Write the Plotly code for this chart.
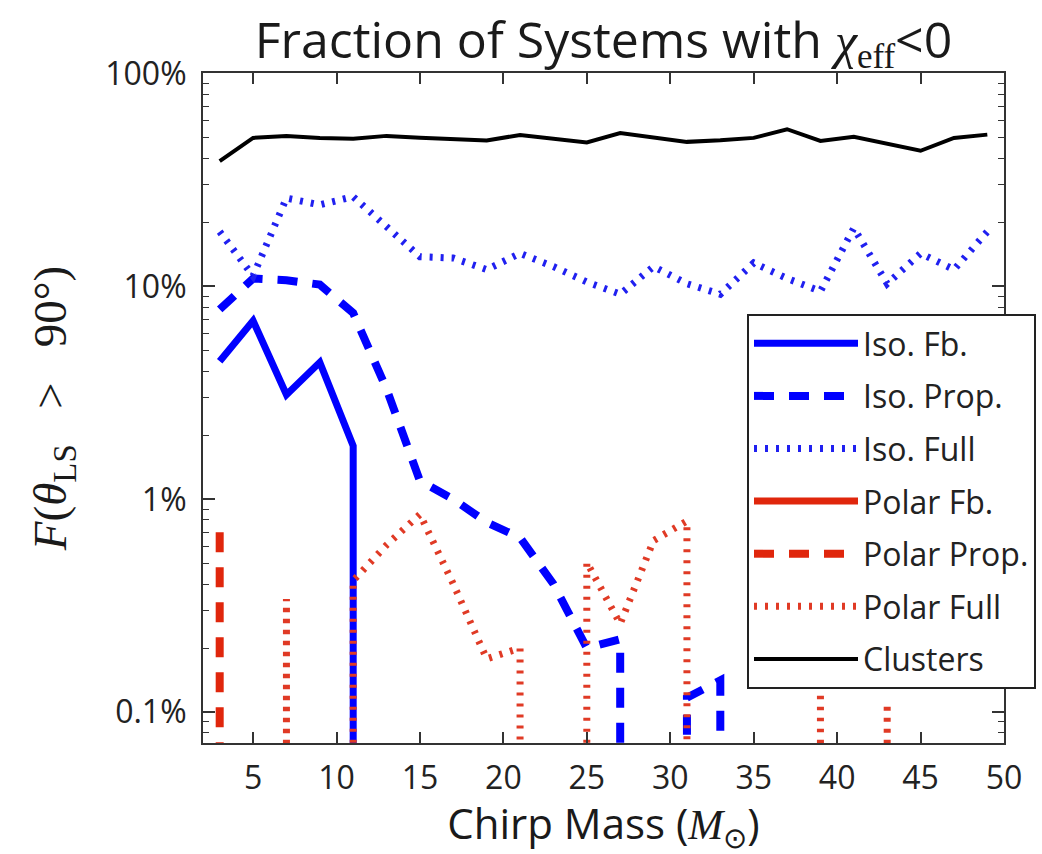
import plotly.graph_objects as go

# ---- data (percent) ----
chirp_mass = [3, 5, 7, 9, 11, 13, 15, 17, 19, 21, 23, 25, 27, 29, 31, 33, 35, 37, 39, 41, 43, 45, 47, 49]

iso_fb = [4.45, 6.9, 3.1, 4.4, 1.78, 0, 0, 0, 0, 0, 0, 0, 0, 0, 0, 0, 0, 0, 0, 0, 0, 0, 0, 0]
iso_prop = [7.8, 10.9, 10.7, 10.2, 7.5, 3.3, 1.22, 1.0, 0.78, 0.66, 0.40, 0.20, 0.22, 0, 0.117, 0.141, 0, 0, 0, 0, 0, 0, 0, 0]
iso_full = [18.1, 11.2, 26.0, 24.2, 26.4, 19.0, 13.8, 13.6, 12.0, 14.3, 12.4, 10.5, 9.2, 12.4, 10.3, 9.2, 12.9, 10.9, 9.5, 18.8, 10.3, 14.3, 12.0, 18.1]
polar_fb = [0] * 24
polar_prop = [0.70, 0, 0, 0, 0, 0, 0, 0, 0, 0, 0, 0, 0, 0, 0, 0, 0, 0, 0, 0, 0, 0, 0, 0]
polar_full = [0, 0, 0.34, 0, 0.415, 0.61, 0.85, 0.40, 0.178, 0.20, 0, 0.506, 0.26, 0.64, 0.79, 0, 0, 0, 0.20, 0, 0.11, 0, 0, 0]
clusters = [38.8, 49.9, 50.9, 49.9, 49.5, 51.0, 50.0, 49.5, 48.5, 51.5, 49.5, 47.5, 52.6, 49.9, 47.8, 48.6, 49.9, 54.8, 48.3, 50.5, 46.9, 43.4, 49.9, 51.7]

y_tickvals = [0.1, 1, 10, 100]
y_ticktext = ["0.1%", "1%", "10%", "100%"]
x_tickvals = [5, 10, 15, 20, 25, 30, 35, 40, 45, 50]

FLOOR = 1e-9  # stand-in for log(0): the line drops vertically out of the axes


def clip_path(xs, ys):
    """Mimic matplotlib's 'clip' handling of zeros on a log axis."""
    px, py = [], []
    n = len(xs)
    for i in range(n):
        if ys[i] > 0:
            if i > 0 and ys[i - 1] <= 0:
                px.append(xs[i]); py.append(FLOOR)
            px.append(xs[i]); py.append(ys[i])
            if i < n - 1 and ys[i + 1] <= 0:
                px.append(xs[i]); py.append(FLOOR)
        else:
            if px and py[-1] is not None:
                px.append(None); py.append(None)
    if not px:
        px, py = [None], [None]
    return px, py


BLUE = "#0000ff"
RED = "#e0260c"
series = [
    ("Iso. Fb.", iso_fb, BLUE, 7, "solid"),
    ("Iso. Prop.", iso_prop, BLUE, 8, "20px,15px"),
    ("Iso. Full", iso_full, "#2020f0", 7, "3px,8px"),
    ("Polar Fb.", polar_fb, RED, 7, "solid"),
    ("Polar Prop.", polar_prop, RED, 8, "20px,15px"),
    ("Polar Full", polar_full, "#e03a25", 7, "3px,8px"),
    ("Clusters", clusters, "#000000", 4, "solid"),
]

fig = go.Figure()
for i, (name, vals, color, width, dash) in enumerate(series):
    px, py = clip_path(chirp_mass, vals)
    fig.add_trace(go.Scatter(
        x=px, y=py, mode="lines", name=name,
        line=dict(color=color, width=width, dash=dash),
        legendgroup=f"g{i}", connectgaps=False,
    ))

SANS = "Open Sans"
SERIF = "Liberation Serif"

minor_vals = [m * 10 ** e for e in (-2, -1, 0, 1) for m in range(2, 10)]

fig.update_layout(
    width=1042, height=854,
    margin=dict(l=203, r=38, t=73, b=111, autoexpand=False),
    paper_bgcolor="white", plot_bgcolor="white",
    font=dict(family=SANS, color="#222222", size=32),
    title=dict(
        text=("Fraction of Systems with "
              f"<span style='font-family:{SERIF}'><i>χ</i><sub>eff</sub></span>&lt;0"),
        x=0.5, xref="paper", xanchor="center",
        y=1 - 40 / 854, yref="container", yanchor="middle",
        font=dict(family=SANS, size=50, color="#1a1a1a"),
    ),
    showlegend=True,
    legend=dict(
        x=(747 - 203) / 801, y=(743 - 314) / 670, xanchor="left", yanchor="top",
        bgcolor="white", bordercolor="#222222", borderwidth=2,
        font=dict(family=SANS, size=32, color="#222222"),
        traceorder="grouped", tracegroupgap=8, itemwidth=104,
    ),
    xaxis=dict(
        range=[2, 50], tickvals=x_tickvals,
        ticks="inside", ticklen=11, tickwidth=1.5, tickcolor="#333333",
        showline=True, linecolor="#333333", linewidth=2, mirror="allticks",
        showgrid=False, zeroline=False,
        tickfont=dict(family=SANS, size=32, color="#222222"),
        ticklabelstandoff=6,
        title=dict(
            text=f"Chirp Mass (<span style='font-family:{SERIF}'><i>M</i><sub>⊙</sub></span>)",
            font=dict(family=SANS, size=42, color="#1a1a1a"), standoff=7,
        ),
    ),
    yaxis=dict(
        type="log", range=[-1.145, 2.003],
        tickvals=y_tickvals, ticktext=y_ticktext,
        ticks="inside", ticklen=12, tickwidth=1.5, tickcolor="#333333",
        minor=dict(tickvals=minor_vals, ticks="inside", ticklen=6, tickwidth=1.2,
                   tickcolor="#333333", showgrid=False),
        showline=True, linecolor="#333333", linewidth=2, mirror="allticks",
        showgrid=False, zeroline=False,
        tickfont=dict(family=SANS, size=32, color="#222222"),
        ticklabelstandoff=8,
        title=dict(
            text="<i>F</i>(<i>θ</i><sub>LS</sub>   &gt;   90°)",
            font=dict(family=SERIF, size=47, color="#1a1a1a"), standoff=24,
        ),
    ),
)

fig.write_html("out.html")
